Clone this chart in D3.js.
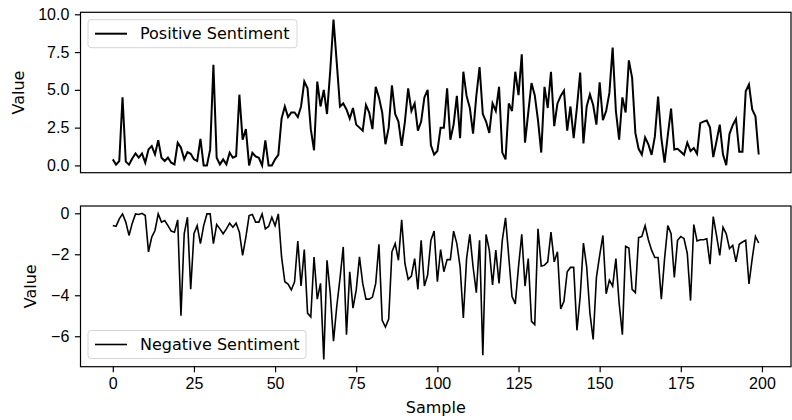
<!DOCTYPE html>
<html>
<head>
<meta charset="utf-8">
<script src="https://cdn.jsdelivr.net/npm/d3@7"></script>
<style>
  body { margin: 0; background: #fff; }
  svg { display: block; font-family: "DejaVu Sans", sans-serif; }
</style>
</head>
<body>
<div id="chart"></div>
<script>
// values, sample 0..199
var positive = [
  0.40, 0.05, 0.29, 4.51, 0.25, 0.05, 0.46, 0.79, 0.51, 0.79, 0.18, 1.06, 1.28, 0.73, 1.67, 0.51, 0.29, 0.51, 0.18, 0.07,
  1.50, 1.17, 0.40, 0.88, 0.77, 0.40, 0.29, 1.76, 0.00, 0.00, 1.06, 6.66, 0.51, 0.07, 0.40, 0.07, 0.84, 0.51, 0.62, 4.68,
  1.70, 2.40, 0.00, 0.84, 0.60, 0.50, 0.00, 1.65, 0.00, 0.00, 0.40, 0.70, 3.10, 3.90, 3.20, 3.50, 3.50, 3.20, 3.90, 5.55,
  5.10, 2.40, 1.00, 5.55, 3.90, 5.00, 3.40, 6.30, 9.65, 6.80, 3.90, 4.10, 3.70, 3.10, 3.80, 2.70, 2.50, 2.30, 4.00, 3.50,
  2.40, 5.20, 4.50, 3.50, 1.40, 2.50, 5.30, 3.40, 2.90, 1.30, 2.90, 5.10, 3.60, 4.10, 2.30, 2.90, 4.50, 5.00, 1.35, 0.72,
  0.95, 2.50, 2.50, 5.10, 1.70, 2.70, 4.60, 1.80, 6.20, 4.60, 3.80, 2.10, 4.60, 6.50, 3.40, 2.90, 2.15, 4.10, 3.60, 5.20,
  0.85, 0.40, 4.10, 3.60, 6.20, 4.65, 7.35, 1.50, 3.50, 5.45, 4.65, 3.00, 0.85, 5.20, 3.80, 6.20, 2.60, 4.10, 4.60, 4.95,
  2.30, 3.90, 1.80, 3.85, 6.15, 1.45, 3.90, 4.70, 4.00, 2.70, 5.50, 3.00, 3.60, 4.80, 7.80, 3.60, 1.70, 4.50, 3.50, 6.95,
  5.80, 2.15, 1.10, 0.72, 1.85, 1.40, 0.70, 1.90, 4.55, 1.80, 0.18, 2.00, 3.76, 1.05, 1.10, 0.90, 0.70, 1.50, 0.95, 1.15,
  0.77, 2.80, 2.90, 2.97, 2.50, 0.55, 1.60, 2.70, 0.72, 0.02, 2.09, 2.66, 3.08, 0.90, 0.90, 4.90, 5.35, 3.70, 3.25, 0.72
];
var negative = [
  -0.60, -0.64, -0.27, -0.03, -0.43, -1.08, -0.48, -0.03, -0.06, 0.00, -0.11, -1.88, -1.16, -0.84, -0.03, -0.43, -0.35, -0.60, -0.87, -0.92,
  -0.32, -5.00, -1.00, -0.19, -3.71, -1.00, -0.60, -1.48, -0.60, -0.03, -0.03, -1.48, -0.55, -0.76, -1.00, -0.76, -0.48, -0.68, -0.48, -0.92,
  -2.05, -1.16, -0.11, -0.06, -0.43, -0.43, -0.03, -0.76, -0.64, -0.19, -0.60, -0.03, -2.13, -3.34, -3.45, -3.74, -3.34, -1.35, -3.55, -1.77,
  -4.87, -5.06, -2.13, -4.19, -3.42, -7.13, -2.29, -3.90, -6.24, -4.55, -3.18, -1.64, -5.92, -2.85, -4.63, -3.74, -2.13, -3.42, -4.19, -4.19,
  -4.09, -3.42, -1.51, -5.22, -5.55, -5.16, -1.88, -1.48, -2.29, -0.32, -2.45, -3.22, -3.06, -2.21, -3.71, -1.32, -3.55, -3.01, -1.32, -0.87,
  -3.34, -1.77, -2.85, -2.26, -2.26, -0.87, -1.48, -2.61, -5.11, -2.21, -1.03, -2.61, -3.87, -1.32, -6.93, -1.03, -1.80, -3.50, -1.80, -3.42,
  -1.32, -0.22, -2.13, -4.06, -4.42, -2.61, -1.03, -3.55, -2.21, -5.27, -5.43, -0.76, -2.58, -2.53, -2.37, -0.92, -2.37, -1.88, -4.67, -4.30,
  -2.85, -2.64, -2.64, -5.71, -4.06, -1.45, -2.61, -4.87, -6.16, -3.13, -2.05, -1.08, -3.93, -3.26, -3.55, -2.21, -4.39, -5.92, -1.61, -1.69,
  -3.71, -3.87, -1.19, -1.13, -0.60, -1.29, -1.80, -2.16, -2.16, -4.19, -2.21, -0.60, -1.00, -3.13, -1.32, -1.13, -1.24, -1.96, -4.26, -0.55,
  -1.35, -1.29, -1.29, -1.24, -2.48, -0.16, -1.08, -2.05, -0.68, -1.00, -1.72, -1.56, -2.37, -1.51, -1.40, -1.32, -3.45, -2.21, -1.13, -1.45
];
var xTicks = [0, 25, 50, 75, 100, 125, 150, 175, 200];
var posTicks = [0, 2.5, 5, 7.5, 10];
var negTicks = [0, -2, -4, -6];
var seriesNames = ["Positive Sentiment", "Negative Sentiment"];

var W = 792, H = 420;
var left = 80.5, right = 791;
var fontSize = 16;
var tick = 5.6;

var svg = d3.select("#chart").append("svg")
  .attr("width", W)
  .attr("height", H);

// matplotlib style 5% padding
function padded(ext) {
  var m = (ext[1] - ext[0]) * 0.05;
  return [ext[0] - m, ext[1] + m];
}

var samples = d3.range(positive.length);
var x = d3.scaleLinear()
  .domain(padded(d3.extent(samples)))
  .range([left, right]);

function panel(values, top, bottom, ticks, fmt, name, lw, labelX, legendY, legendW) {
  var y = d3.scaleLinear()
    .domain(padded(d3.extent(values)))
    .range([bottom, top]);

  var g = svg.append("g");

  var line = d3.line()
    .x(function(d, i) { return x(i); })
    .y(function(d) { return y(d); });

  g.append("path")
    .datum(values)
    .attr("fill", "none")
    .attr("stroke", "black")
    .attr("stroke-width", lw)
    .attr("d", line);

  var ya = g.append("g")
    .attr("transform", "translate(" + left + ",0)")
    .call(d3.axisLeft(y).tickValues(ticks).tickFormat(fmt).tickSize(tick).tickPadding(tick).tickSizeOuter(0));
  ya.select(".domain").remove();
  ya.selectAll("line").attr("stroke-width", 1.2);
  ya.selectAll("text").style("font-size", fontSize + "px").attr("fill", "black");

  // frame
  g.append("rect")
    .attr("x", left).attr("y", top)
    .attr("width", right - left).attr("height", bottom - top)
    .attr("fill", "none").attr("stroke", "black").attr("stroke-width", 1.2);

  g.append("text")
    .attr("transform", "translate(" + labelX + "," + ((top + bottom) / 2) + ") rotate(-90)")
    .attr("text-anchor", "middle")
    .attr("dy", "0.35em")
    .style("font-size", fontSize + "px")
    .text("Value");

  // legend
  var lg = g.append("g").attr("transform", "translate(88," + legendY + ")");
  lg.append("rect")
    .attr("width", legendW).attr("height", 28)
    .attr("rx", 3).attr("ry", 3)
    .attr("fill", "white").attr("fill-opacity", 0.8)
    .attr("stroke", "#d5d5d5").attr("stroke-width", 1);
  lg.append("line")
    .attr("x1", 7).attr("x2", 39)
    .attr("y1", 14).attr("y2", 14)
    .attr("stroke", "black").attr("stroke-width", lw);
  lg.append("text")
    .attr("x", 52).attr("y", 14)
    .attr("dy", "0.35em")
    .style("font-size", fontSize + "px")
    .text(name);

  return y;
}

panel(positive, 12.3, 172.7, posTicks, d3.format(".1f"), seriesNames[0], 2, 18, 19.7, 209);
panel(negative, 206, 366.7, negTicks, d3.format("d"), seriesNames[1], 1.6, 30, 330.5, 218);

var xa = svg.append("g")
  .attr("transform", "translate(0,366.7)")
  .call(d3.axisBottom(x).tickValues(xTicks).tickSize(tick).tickPadding(tick).tickSizeOuter(0));
xa.select(".domain").remove();
xa.selectAll("line").attr("stroke-width", 1.2);
xa.selectAll("text").style("font-size", fontSize + "px").attr("fill", "black");

svg.append("text")
  .attr("x", (left + right) / 2)
  .attr("y", 413)
  .attr("text-anchor", "middle")
  .style("font-size", fontSize + "px")
  .text("Sample");
</script>
</body>
</html>
